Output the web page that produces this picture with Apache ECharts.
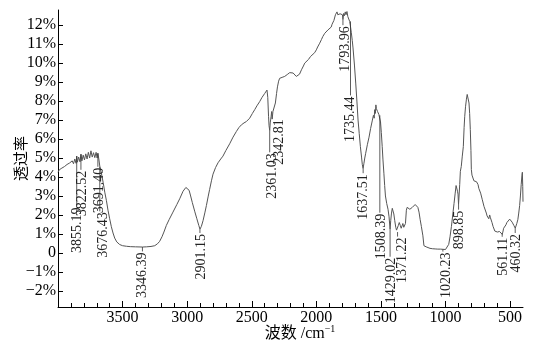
<!DOCTYPE html>
<html>
<head>
<meta charset="utf-8">
<script src="https://cdn.jsdelivr.net/npm/echarts@6/dist/echarts.min.js"></script>
<style>
html,body{margin:0;padding:0;background:#fff;}
#chart{width:536px;height:347px;}
</style>
</head>
<body>
<div id="chart"></div>
<script>
// ---- DATA ----
const waveNumbers = [
4000,3990,3980,3970,3960,3950,3940,3930,3920,3910,3900,3890,3880,3870,3860,3855,3850,3840,3830,3822,3815,3805,3795,3785,3775,3765,3755,3745,3735,3725,3715,3705,3697,3691,3684,3676,3664,3650,3638,3625,3613,3600,3587,3574,3561,3545,3522,3500,3470,3440,3400,3346,3316,3280,3251,3230,3213,3195,3180,3161,3140,3110,3080,3058,3032,3010,2995,2985,2975,2960,2942,2925,2910,2901,2890,2877,2862,2851,2838,2826,2812,2800,2780,2761,2740,2723,2700,2671,2645,2619,2600,2580,2560,2542,2516,2495,2477,2460,2439,2420,2400,2390,2382,2376,2370,2366,2361,2357,2353,2350,2346,2342,2336,2330,2317,2308,2301,2292,2284,2265,2245,2225,2206,2193,2180,2167,2155,2142,2130,2115,2100,2090,2077,2060,2045,2030,2013,2000,1990,1974,1960,1950,1935,1920,1910,1897,1885,1878,1871,1864,1858,1852,1846,1840,1834,1828,1822,1816,1810,1804,1798,1794,1788,1782,1776,1770,1763,1756,1750,1742,1735,1729,1722,1716,1705,1695,1686,1677,1668,1659,1650,1644,1638,1632,1625,1618,1605,1592,1580,1566,1558,1552,1548,1543,1539,1535,1530,1526,1522,1516,1510,1503,1497,1490,1484,1477,1471,1465,1455,1445,1437,1429,1424,1418,1412,1406,1400,1393,1385,1379,1371,1365,1358,1350,1343,1337,1330,1323,1316,1310,1303,1297,1290,1283,1276,1270,1264,1257,1250,1244,1235,1228,1221,1214,1205,1196,1187,1180,1175,1167,1158,1150,1142,1135,1120,1100,1080,1060,1040,1020,1000,993,985,975,965,954,944,934,925,918,912,907,903,899,895,890,885,878,870,862,856,851,845,838,832,828,824,818,813,808,803,800,795,788,780,774,768,760,754,748,742,735,728,722,715,708,702,697,690,684,678,671,665,658,652,645,640,632,625,618,612,606,598,590,582,573,567,561,556,550,545,540,532,525,518,510,503,496,490,484,478,471,465,460,455,448,440,433,426,420,414,408,405,402,400
];
const transmittance = [
4.25,4.38,4.33,4.47,4.42,4.55,4.50,4.66,4.58,4.74,4.65,4.85,4.70,4.95,4.72,5.10,4.78,5.05,4.80,5.20,4.85,5.15,4.90,5.22,4.95,5.30,5.00,5.38,5.05,5.28,5.02,5.30,5.00,5.25,4.95,4.55,4.20,3.70,3.20,2.75,2.25,1.80,1.38,1.05,0.78,0.58,0.44,0.38,0.35,0.33,0.32,0.31,0.32,0.34,0.38,0.48,0.61,0.85,1.10,1.45,1.75,2.15,2.55,2.85,3.25,3.45,3.45,3.30,3.05,2.65,2.20,1.80,1.45,1.25,1.40,1.70,2.15,2.50,2.95,3.35,3.80,4.15,4.50,4.75,4.95,5.10,5.40,5.75,6.10,6.40,6.60,6.75,6.85,6.92,7.10,7.35,7.55,7.75,7.97,8.20,8.40,8.50,8.58,8.20,7.20,6.70,6.45,6.85,7.05,7.20,7.45,7.05,7.45,7.35,7.90,8.40,8.75,9.05,9.20,9.25,9.30,9.40,9.50,9.55,9.48,9.38,9.30,9.28,9.42,9.65,9.85,10.00,10.05,10.20,10.35,10.45,10.55,10.70,10.85,11.05,11.25,11.40,11.57,11.65,11.75,11.83,11.90,12.05,12.00,12.25,12.35,12.55,12.45,12.70,12.55,12.65,12.45,12.60,12.50,12.68,12.55,12.30,12.62,12.50,12.70,12.55,12.72,12.45,12.35,12.20,11.90,11.60,11.20,10.80,9.90,8.95,8.00,7.00,6.30,5.60,5.05,4.65,4.45,4.70,5.00,5.25,5.70,6.10,6.55,7.00,7.25,7.10,7.55,7.35,7.80,7.60,7.70,7.45,7.55,7.30,7.25,6.90,6.35,5.60,4.90,4.20,3.55,3.00,2.60,2.30,1.90,1.25,1.70,2.10,2.35,2.30,2.05,1.70,1.35,1.20,1.10,1.45,1.60,1.45,1.30,1.40,1.55,1.35,1.30,1.55,2.25,2.40,2.30,2.45,2.30,2.38,2.28,2.40,2.45,2.40,2.55,2.65,2.65,2.40,2.15,1.75,1.40,1.35,0.90,0.38,0.30,0.32,0.28,0.28,0.24,0.22,0.21,0.20,0.20,0.19,0.18,0.18,0.28,0.45,0.85,1.40,2.00,2.60,3.15,3.55,3.45,3.25,3.10,2.55,2.60,3.60,4.30,4.55,5.10,5.60,6.60,7.20,7.70,8.10,8.35,8.42,8.30,7.90,7.35,6.50,5.40,4.40,4.10,4.00,3.80,3.85,3.80,3.75,3.72,3.60,3.40,3.30,3.15,3.05,2.80,2.70,2.45,2.40,2.35,2.10,1.95,1.90,1.80,2.00,1.85,1.90,1.60,1.40,1.30,1.15,1.10,1.12,1.10,1.15,1.13,1.12,1.08,0.98,1.10,1.30,1.35,1.40,1.48,1.60,1.55,1.70,1.78,1.82,1.70,1.62,1.55,1.45,1.38,1.30,1.40,1.55,1.75,2.10,2.50,3.00,3.60,4.10,4.25,3.50,2.70
];
// peak annotations: wavenumber, curve-side end of leader, label-side end of leader
const peakWave = [3855.19,3822.52,3691.40,3676.43,3346.39,2901.15,2361.03,2342.81,1793.96,1735.44,1637.51,1508.39,1429.02,1371.22,1020.23,898.85,561.11,460.32];
const peakCurveY = [5.10,5.20,5.25,4.55,0.31,1.25,6.45,7.10,12.30,12.20,4.45,7.25,1.25,1.10,0.19,2.55,1.00,1.30];
const peakLabelY = [2.45,4.38,4.54,2.19,0.08,1.05,5.30,7.10,12.00,8.30,4.20,2.12,-0.20,0.86,0.07,2.28,0.85,1.05];
const xMajorTicks = [3500,3000,2500,2000,1500,1000,500];
const xMinorTicks = [3900,3800,3700,3600,3400,3300,3200,3100,2900,2800,2700,2600,2400,2300,2200,2100,1900,1800,1700,1600,1400,1300,1200,1100,900,800,700,600];
const yTicks = [-2,-1,0,1,2,3,4,5,6,7,8,9,10,11,12];

// ---- STYLE (pixel nudges for label text, not data) ----
const labelDx = [1,1,1,4,0,1,3,7,2,0,0,1,1,5,3,1,1,1];

const SERIF = 'Liberation Serif, Noto Sans CJK SC, serif';
const curve = waveNumbers.map((w, i) => [w, transmittance[i]]);
const peaks = peakWave.map((w, i) => [w, peakCurveY[i], peakLabelY[i]]);

const chart = echarts.init(document.getElementById('chart'));
chart.setOption({
  animation: false,
  backgroundColor: '#fff',
  textStyle: { fontFamily: SERIF },
  grid: { left: 58, right: 13, top: 10, bottom: 40, containLabel: false, outerBoundsMode: 'none' },
  xAxis: [{
    type: 'value', inverse: true, min: 400, max: 4000,
    axisLine: { show: true, onZero: false, lineStyle: { color: '#000', width: 1 } },
    axisTick: { show: true, inside: true, length: 6, customValues: xMajorTicks, lineStyle: { color: '#000' } },
    axisLabel: { customValues: xMajorTicks, color: '#000', fontFamily: SERIF, fontSize: 16, margin: 3, formatter: v => String(v) },
    splitLine: { show: false },
    name: '{a|波数 /cm}{s|−1}',
    nameLocation: 'middle', nameGap: 17, nameMoveOverlap: false,
    nameTextStyle: {
      fontFamily: SERIF,
      padding: [0, 0, 0, 19],
      rich: {
        a: { fontFamily: SERIF, fontSize: 16, color: '#000' },
        s: { fontFamily: SERIF, fontSize: 10, color: '#000', padding: [0, 0, 9, 0] }
      }
    }
  }, {
    type: 'value', inverse: true, min: 400, max: 4000, position: 'bottom',
    axisLine: { show: false, onZero: false },
    axisTick: { show: true, inside: true, length: 4, customValues: xMinorTicks, lineStyle: { color: '#000' } },
    axisLabel: { show: false },
    splitLine: { show: false }
  }],
  yAxis: {
    type: 'value', min: -2.85, max: 12.8,
    axisLine: { show: true, onZero: false, lineStyle: { color: '#000', width: 1 } },
    axisTick: { show: true, inside: true, length: 5, customValues: yTicks, lineStyle: { color: '#000' } },
    axisLabel: {
      customValues: yTicks, color: '#000', fontFamily: SERIF, fontSize: 16, margin: 2,
      formatter: v => v === 0 ? '0' : (v < 0 ? '\u2212' + Math.abs(v) : v) + '%'
    },
    splitLine: { show: false },
    name: '透过率', nameLocation: 'middle', nameGap: 28, nameRotate: 90, nameMoveOverlap: false,
    nameTextStyle: { fontFamily: SERIF, fontSize: 15, color: '#000' }
  },
  series: [{
    type: 'line', data: curve, xAxisIndex: 0, showSymbol: false, symbol: 'none',
    lineStyle: { color: '#555', width: 1 }, z: 2
  }, {
    type: 'custom', data: peaks, xAxisIndex: 0, clip: false, z: 3,
    encode: { x: 0, y: 1 },
    renderItem: function (params, api) {
      const i = params.dataIndex;
      const p1 = api.coord([api.value(0), api.value(1)]);
      const p2 = api.coord([api.value(0), api.value(2)]);
      return {
        type: 'group',
        children: [{
          type: 'line',
          shape: { x1: p1[0], y1: p1[1], x2: p2[0], y2: p2[1] },
          style: { stroke: '#333', lineWidth: 0.8 }
        }, {
          type: 'text',
          x: p2[0] + labelDx[i], y: p2[1] + 1,
          rotation: Math.PI / 2,
          style: {
            text: peakWave[i].toFixed(2),
            font: '14px ' + SERIF,
            fill: '#222', align: 'right', verticalAlign: 'middle'
          }
        }]
      };
    }
  }]
});
</script>
</body>
</html>
